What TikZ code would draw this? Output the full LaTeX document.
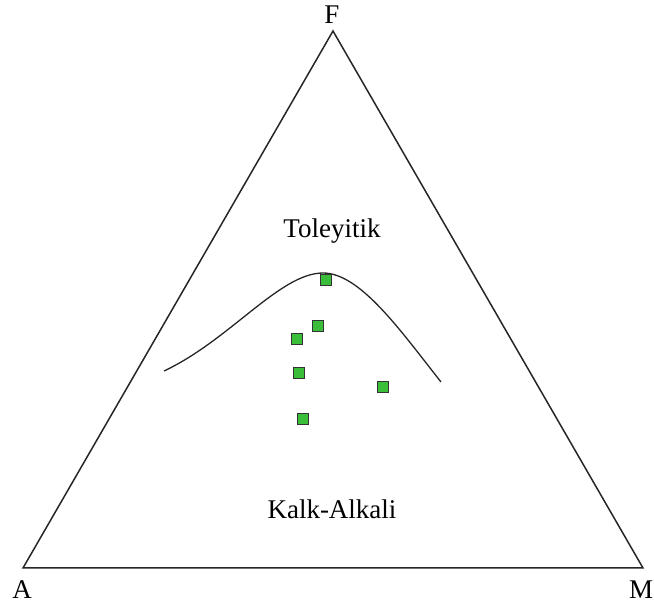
\documentclass[tikz,border=0pt]{standalone}
\usepackage{fontspec}
\setmainfont{Liberation Serif}
\usepackage{tikz}
\usetikzlibrary{positioning}

\definecolor{samplegreen}{RGB}{58,190,58}

\tikzset{
	sample/.style={draw=black!80, fill=samplegreen, line width=1pt, minimum size=11pt, inner sep=0pt},
	corner/.style={font=\fontsize{27}{27}\selectfont, inner sep=0pt},
	field/.style={font=\fontsize{27}{27}\selectfont, inner sep=0pt}
}

\begin{document}
\begin{tikzpicture}[x=1pt, y=1pt, line width=1.5pt]
	\useasboundingbox (0,0) rectangle (654,605);
	% Corners {A, M, F}
	\coordinate (A) at (23,37);
	\coordinate (M) at (643,37);
	\coordinate (F) at (333,574);
	\node [corner] (lA) at (22,15)  {A};
	\node [corner] (lM) at (641,15) {M};
	\node [corner] (lF) at (332,590) {F};
	
	% Triangle
	\draw [black!85, line join=miter] (A) -- (M) -- (F) -- cycle;
	
	% Fields
	\node [field] (thol) at (332,374) {Toleyitik};
	\node [field] (calc) at (332,96)  {Kalk-Alkali};
	
	% Boundary
	\draw [black!85, line width=1.3pt] (164,234) .. controls (230,265) and (280,332) .. (323,332)
		.. controls (360,332) and (400,275) .. (441,223);
	
	% Samples
	\node [sample] (s1) at (326,325) {};
	\node [sample] (s2) at (318,279) {};
	\node [sample] (s3) at (297,266) {};
	\node [sample] (s4) at (299,232) {};
	\node [sample] (s5) at (383,218) {};
	\node [sample] (s6) at (303,186) {};
\end{tikzpicture}
\end{document}
